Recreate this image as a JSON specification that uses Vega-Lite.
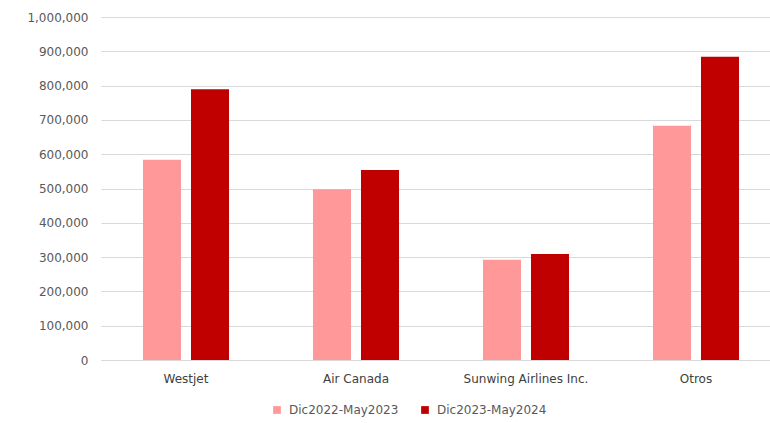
{
  "$schema": "https://vega.github.io/schema/vega-lite/v6.json",
  "width": 669,
  "height": 343,
  "autosize": "none",
  "padding": {"left": 101, "top": 17, "right": 0, "bottom": 63},
  "background": "white",
  "config": {
    "font": "DejaVu Sans",
    "view": {"stroke": null}
  },
  "data": {
    "values": [
      {"aerolinea": "Westjet", "periodo": "Dic2022-May2023", "pasajeros": 584000},
      {"aerolinea": "Westjet", "periodo": "Dic2023-May2024", "pasajeros": 789000},
      {"aerolinea": "Air Canada", "periodo": "Dic2022-May2023", "pasajeros": 498000},
      {"aerolinea": "Air Canada", "periodo": "Dic2023-May2024", "pasajeros": 554000},
      {"aerolinea": "Sunwing Airlines Inc.", "periodo": "Dic2022-May2023", "pasajeros": 292000},
      {"aerolinea": "Sunwing Airlines Inc.", "periodo": "Dic2023-May2024", "pasajeros": 309000},
      {"aerolinea": "Otros", "periodo": "Dic2022-May2023", "pasajeros": 683000},
      {"aerolinea": "Otros", "periodo": "Dic2023-May2024", "pasajeros": 884000}
    ]
  },
  "mark": {"type": "bar"},
  "encoding": {
    "x": {
      "field": "aerolinea",
      "type": "nominal",
      "sort": ["Westjet", "Air Canada", "Sunwing Airlines Inc.", "Otros"],
      "scale": {"range": [0, 680], "paddingInner": 0.494, "paddingOuter": 0.247},
      "axis": {
        "title": null,
        "labelAngle": 0,
        "ticks": false,
        "domainColor": "#d9d9d9",
        "labelColor": "#404040",
        "labelFontSize": 12,
        "labelPadding": 13
      }
    },
    "xOffset": {
      "field": "periodo",
      "type": "nominal",
      "scale": {"paddingInner": 0.208, "paddingOuter": 0}
    },
    "y": {
      "field": "pasajeros",
      "type": "quantitative",
      "scale": {"domain": [0, 1000000]},
      "axis": {
        "title": null,
        "values": [0, 100000, 200000, 300000, 400000, 500000, 600000, 700000, 800000, 900000, 1000000],
        "format": ",d",
        "domain": false,
        "ticks": false,
        "gridColor": "#d9d9d9",
        "gridWidth": 1,
        "labelColor": "#595959",
        "labelFontSize": 12,
        "labelPadding": 13
      }
    },
    "color": {
      "field": "periodo",
      "type": "nominal",
      "scale": {"domain": ["Dic2022-May2023", "Dic2023-May2024"], "range": ["#ff9999", "#c00000"]},
      "legend": {
        "title": null,
        "orient": "none",
        "direction": "horizontal",
        "legendX": 170,
        "legendY": 387,
        "symbolType": "square",
        "symbolSize": 60,
        "symbolStrokeWidth": 0,
        "labelFontSize": 12,
        "labelColor": "#595959",
        "labelOffset": 6,
        "columnPadding": 20
      }
    }
  }
}
